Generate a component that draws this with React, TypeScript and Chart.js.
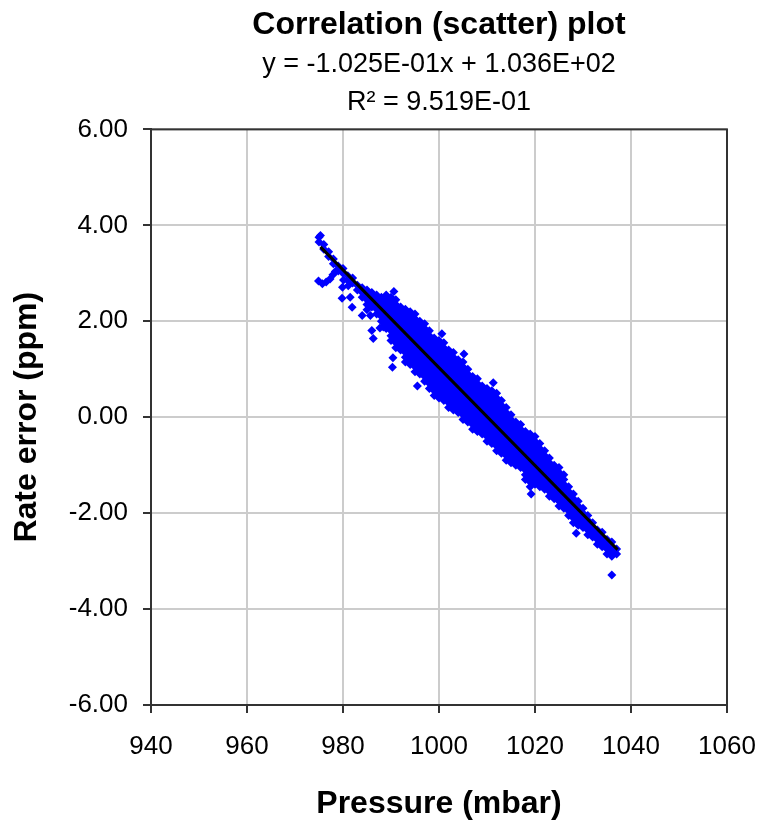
import React, { useEffect, useRef } from "react";
import Chart from "chart.js/auto";

const FONT = "'Liberation Sans', Arial, Helvetica, sans-serif";

const chartTitle = "Correlation (scatter) plot";
const fitLines = ["y = -1.025E-01x + 1.036E+02", "R\u00B2 = 9.519E-01"];
const xAxisTitle = "Pressure (mbar)";
const yAxisTitle = "Rate error (ppm)";

// Dense part of the cloud, read column by column (pressure in mbar -> rate errors in ppm)
const pressureColumns = [
  975, 976, 977, 978, 979, 980, 981, 982, 983, 984, 985, 986, 987, 988, 989, 990,
  991, 992, 993, 994, 995, 996, 997, 998, 999, 1000, 1001, 1002, 1003, 1004, 1005,
  1006, 1007, 1008, 1009, 1010, 1011, 1012, 1013, 1014, 1015, 1016, 1017, 1018,
  1019, 1020, 1021, 1022, 1023, 1024, 1025, 1026, 1027, 1028, 1029, 1030, 1031,
  1032, 1033, 1034, 1035, 1036, 1037,
];

const rateErrorColumns = [
  [3.75, 3.65],
  [3.6, 3.5],
  [3.45, 3.35],
  [3.3, 3.2],
  [3.15, 3.05],
  [3.1, 3.0],
  [2.95, 2.85],
  [2.9, 2.8],
  [2.75, 2.65],
  [2.7, 2.6, 2.5],
  [2.65, 2.55, 2.45, 2.35],
  [2.6, 2.5, 2.4, 2.3],
  [2.55, 2.45, 2.35, 2.25, 2.15],
  [2.5, 2.4, 2.3, 2.2, 2.1, 2.0],
  [2.55, 2.45, 2.35, 2.25, 2.15, 2.05, 1.95, 1.85],
  [2.5, 2.4, 2.3, 2.2, 2.1, 2.0, 1.9, 1.8, 1.7, 1.6],
  [2.45, 2.35, 2.25, 2.15, 2.05, 1.95, 1.85, 1.75, 1.65, 1.55, 1.45],
  [2.3, 2.2, 2.1, 2.0, 1.9, 1.8, 1.7, 1.6, 1.5, 1.4],
  [2.25, 2.15, 2.05, 1.95, 1.85, 1.75, 1.65, 1.55, 1.45, 1.35, 1.25, 1.15],
  [2.2, 2.1, 2.0, 1.9, 1.8, 1.7, 1.6, 1.5, 1.4, 1.3, 1.2, 1.1],
  [2.15, 2.05, 1.95, 1.85, 1.75, 1.65, 1.55, 1.45, 1.35, 1.25, 1.15, 1.05, 0.95],
  [2.0, 1.9, 1.8, 1.7, 1.6, 1.5, 1.4, 1.3, 1.2, 1.1, 1.0, 0.9],
  [1.95, 1.85, 1.75, 1.65, 1.55, 1.45, 1.35, 1.25, 1.15, 1.05, 0.95, 0.85, 0.75],
  [1.8, 1.7, 1.6, 1.5, 1.4, 1.3, 1.2, 1.1, 1.0, 0.9, 0.8, 0.7, 0.6],
  [1.65, 1.55, 1.45, 1.35, 1.25, 1.15, 1.05, 0.95, 0.85, 0.75, 0.65, 0.55, 0.45],
  [1.6, 1.5, 1.4, 1.3, 1.2, 1.1, 1.0, 0.9, 0.8, 0.7, 0.6, 0.5, 0.4],
  [1.55, 1.45, 1.35, 1.25, 1.15, 1.05, 0.95, 0.85, 0.75, 0.65, 0.55, 0.45, 0.35],
  [1.4, 1.3, 1.2, 1.1, 1.0, 0.9, 0.8, 0.7, 0.6, 0.5, 0.4, 0.3, 0.2],
  [1.35, 1.25, 1.15, 1.05, 0.95, 0.85, 0.75, 0.65, 0.55, 0.45, 0.35, 0.25, 0.15],
  [1.2, 1.1, 1.0, 0.9, 0.8, 0.7, 0.6, 0.5, 0.4, 0.3, 0.2, 0.1],
  [1.15, 1.05, 0.95, 0.85, 0.75, 0.65, 0.55, 0.45, 0.35, 0.25, 0.15, 0.05, -0.05],
  [1.0, 0.9, 0.8, 0.7, 0.6, 0.5, 0.4, 0.3, 0.2, 0.1, 0.0, -0.1],
  [0.85, 0.75, 0.65, 0.55, 0.45, 0.35, 0.25, 0.15, 0.05, -0.05, -0.15, -0.25],
  [0.8, 0.7, 0.6, 0.5, 0.4, 0.3, 0.2, 0.1, 0.0, -0.1, -0.2, -0.3],
  [0.65, 0.55, 0.45, 0.35, 0.25, 0.15, 0.05, -0.05, -0.15, -0.25, -0.35],
  [0.6, 0.5, 0.4, 0.3, 0.2, 0.1, 0.0, -0.1, -0.2, -0.3, -0.4, -0.5],
  [0.55, 0.45, 0.35, 0.25, 0.15, 0.05, -0.05, -0.15, -0.25, -0.35, -0.45, -0.55],
  [0.5, 0.4, 0.3, 0.2, 0.1, 0.0, -0.1, -0.2, -0.3, -0.4, -0.5, -0.6, -0.7],
  [0.35, 0.25, 0.15, 0.05, -0.05, -0.15, -0.25, -0.35, -0.45, -0.55, -0.65, -0.75],
  [0.2, 0.1, 0.0, -0.1, -0.2, -0.3, -0.4, -0.5, -0.6, -0.7, -0.8, -0.9],
  [0.05, -0.05, -0.15, -0.25, -0.35, -0.45, -0.55, -0.65, -0.75, -0.85, -0.95],
  [-0.1, -0.2, -0.3, -0.4, -0.5, -0.6, -0.7, -0.8, -0.9, -1.0],
  [-0.15, -0.25, -0.35, -0.45, -0.55, -0.65, -0.75, -0.85, -0.95, -1.05],
  [-0.3, -0.4, -0.5, -0.6, -0.7, -0.8, -0.9, -1.0, -1.1, -1.2, -1.3],
  [-0.35, -0.45, -0.55, -0.65, -0.75, -0.85, -0.95, -1.05, -1.15, -1.25, -1.35, -1.45],
  [-0.4, -0.5, -0.6, -0.7, -0.8, -0.9, -1.0, -1.1, -1.2, -1.3, -1.4],
  [-0.55, -0.65, -0.75, -0.85, -0.95, -1.05, -1.15, -1.25, -1.35, -1.45],
  [-0.7, -0.8, -0.9, -1.0, -1.1, -1.2, -1.3, -1.4, -1.5],
  [-0.85, -0.95, -1.05, -1.15, -1.25, -1.35, -1.45, -1.55, -1.65],
  [-1.0, -1.1, -1.2, -1.3, -1.4, -1.5, -1.6, -1.7],
  [-1.05, -1.15, -1.25, -1.35, -1.45, -1.55, -1.65, -1.75, -1.85],
  [-1.2, -1.3, -1.4, -1.5, -1.6, -1.7, -1.8, -1.9],
  [-1.45, -1.55, -1.65, -1.75, -1.85, -1.95, -2.05],
  [-1.6, -1.7, -1.8, -1.9, -2.0, -2.1, -2.2],
  [-1.75, -1.85, -1.95, -2.05, -2.15, -2.25],
  [-1.9, -2.0, -2.1, -2.2, -2.3],
  [-2.05, -2.15, -2.25, -2.35, -2.45],
  [-2.2, -2.3, -2.4, -2.5],
  [-2.35, -2.45, -2.55, -2.65],
  [-2.4, -2.5, -2.6, -2.7],
  [-2.55, -2.65, -2.75, -2.85],
  [-2.6, -2.7, -2.8, -2.9],
  [-2.75, -2.85],
];

// Sparse / outlying points
const outlierPressure = [
  975.3, 974.9, 975.7, 976.5, 977.3, 977.9, 978.4, 979.9, 980.1, 981.1, 979.8, 981.5,
  981.9, 984.0, 985.0, 985.7, 986.0, 986.3, 987.7, 988.4, 990.4, 990.3, 995.5, 990.6,
  1000.6, 1005.2, 1011.3, 1019.2, 1028.6, 1036.0,
];
const outlierRateError = [
  3.79, 2.84, 2.78, 2.82, 2.88, 2.97, 3.04, 2.71, 2.86, 2.74, 2.48, 2.5,
  2.29, 2.12, 2.24, 2.12, 1.81, 1.64, 1.86, 1.88, 1.24, 1.04, 0.65, 2.62,
  1.74, 1.32, 0.72, -1.6, -2.42, -3.29,
];

// Linear trend line end points
const fitPressure = [975.3, 1037.2];
const fitRateError = [3.55, -2.76];

const xTicks = { min: 940, max: 1060, step: 20 };
const yTicks = { min: -6, max: 6, step: 2 };

const framePlugin = {
  id: "plotFrame",
  afterDraw(chart: any) {
    const { ctx, chartArea } = chart;
    ctx.save();
    ctx.strokeStyle = "#333333";
    ctx.lineWidth = 2;
    ctx.strokeRect(chartArea.left, chartArea.top, chartArea.right - chartArea.left, chartArea.bottom - chartArea.top);
    ctx.restore();
  },
};

export default function App() {
  const canvasRef = useRef<HTMLCanvasElement | null>(null);

  useEffect(() => {
    if (!canvasRef.current) return;
    const scatterPoints = pressureColumns.flatMap((p, i) =>
      rateErrorColumns[i].map((r) => ({ x: p, y: r }))
    );
    outlierPressure.forEach((p, i) => scatterPoints.push({ x: p, y: outlierRateError[i] }));
    const fitPoints = fitPressure.map((p, i) => ({ x: p, y: fitRateError[i] }));

    const chart = new Chart(canvasRef.current, {
      type: "scatter",
      data: {
        datasets: [
          {
            type: "line",
            label: "Linear fit",
            data: fitPoints,
            borderColor: "#000000",
            borderWidth: 3,
            pointRadius: 0,
            fill: false,
          } as any,
          {
            label: "Rate error",
            data: scatterPoints,
            pointStyle: "rectRot",
            pointRadius: 4.5,
            pointBorderWidth: 0,
            backgroundColor: "#0000ff",
            borderColor: "#0000ff",
          },
        ],
      },
      options: {
        responsive: false,
        animation: false,
        devicePixelRatio: 1,
        layout: { padding: { left: 0, right: 30, top: 0, bottom: 0 } },
        plugins: {
          legend: { display: false },
          tooltip: { enabled: false },
          title: {
            display: true,
            text: chartTitle,
            fullSize: false,
            color: "#000",
            font: { family: FONT, size: 32, weight: "bold", lineHeight: 1.2 },
            padding: { top: 6, bottom: 0 },
          },
          subtitle: {
            display: true,
            text: fitLines,
            fullSize: false,
            color: "#000",
            font: { family: FONT, size: 27, weight: "normal", lineHeight: 38 / 27 },
            padding: { top: 1, bottom: 8 },
          },
        },
        scales: {
          x: {
            type: "linear",
            min: xTicks.min,
            max: xTicks.max,
            ticks: {
              stepSize: xTicks.step,
              callback: (v: any) => String(v),
              color: "#000",
              font: { family: FONT, size: 26 },
              padding: 18,
              maxRotation: 0,
            },
            grid: { color: "#cccccc", lineWidth: 2, tickColor: "#333333", tickWidth: 2, tickLength: 8 },
            border: { color: "#333333", width: 2 },
            title: {
              display: true,
              text: xAxisTitle,
              color: "#000",
              font: { family: FONT, size: 32, weight: "bold", lineHeight: 1.2 },
              padding: { top: 0, bottom: 4 },
            },
            afterFit: (s: any) => {
              s.height = 122;
              s.paddingLeft = 0;
              s.paddingRight = 28;
            },
          },
          y: {
            type: "linear",
            min: yTicks.min,
            max: yTicks.max,
            ticks: {
              stepSize: yTicks.step,
              callback: (v: any) => Number(v).toFixed(2),
              color: "#000",
              font: { family: FONT, size: 26 },
              padding: 15,
            },
            grid: { color: "#cccccc", lineWidth: 2, tickColor: "#333333", tickWidth: 2, tickLength: 8 },
            border: { color: "#333333", width: 2 },
            title: {
              display: true,
              text: yAxisTitle,
              color: "#000",
              font: { family: FONT, size: 32, weight: "bold", lineHeight: 1.2 },
              padding: { top: 8, bottom: 0 },
            },
            afterFit: (s: any) => {
              s.width = 151;
            },
          },
        },
      },
      plugins: [framePlugin],
    });
    return () => chart.destroy();
  }, []);

  return (
    <div style={{ position: "absolute", left: 0, top: 0, width: 757, height: 827, background: "#ffffff" }}>
      <canvas ref={canvasRef} width={757} height={827} style={{ display: "block" }} />
    </div>
  );
}
